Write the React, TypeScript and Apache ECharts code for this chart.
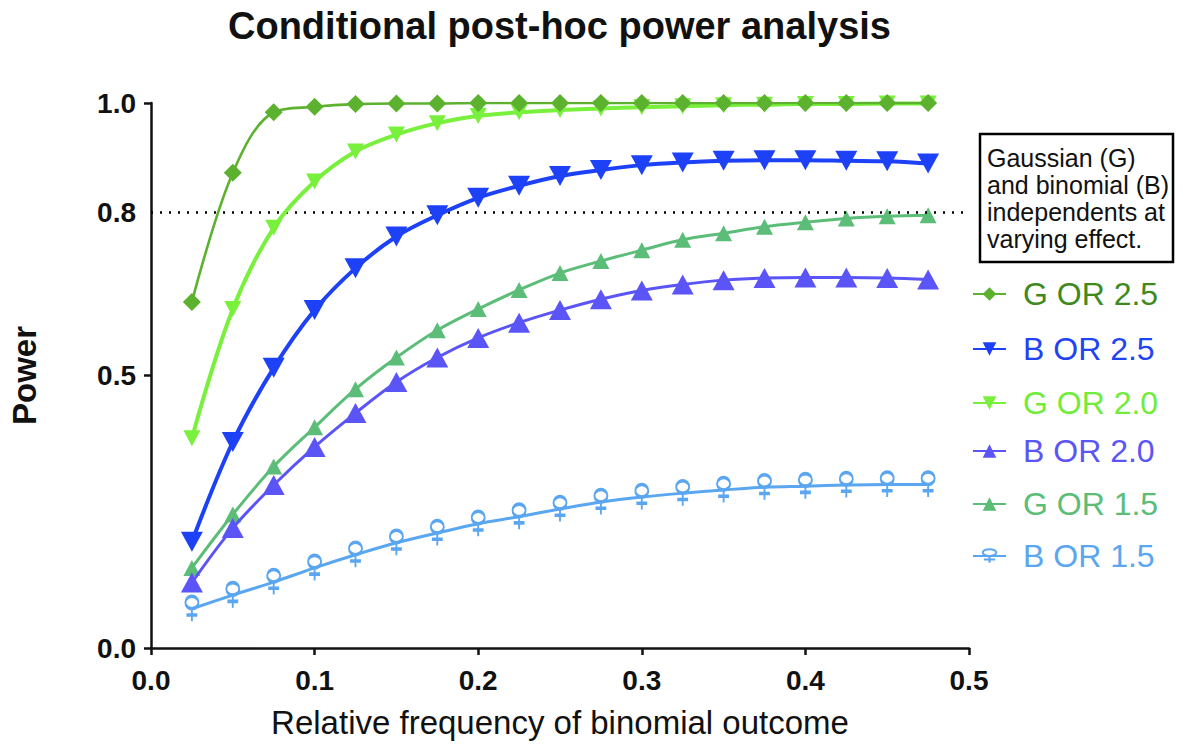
import React, { useEffect, useRef } from 'react';
import * as echarts from 'echarts';

// ---------- data ----------
const xValues = [0.025, 0.05, 0.075, 0.1, 0.125, 0.15, 0.175, 0.2, 0.225, 0.25, 0.275, 0.3, 0.325, 0.35, 0.375, 0.4, 0.425, 0.45, 0.475];

const gOR25 = [0.635, 0.872, 0.983, 0.993, 0.998, 0.999, 0.999, 1.0, 1.0, 1.0, 1.0, 1.0, 1.0, 1.0, 1.0, 1.0, 1.0, 1.0, 1.0];
const bOR25 = [0.195, 0.378, 0.514, 0.62, 0.697, 0.755, 0.794, 0.826, 0.848, 0.866, 0.877, 0.886, 0.891, 0.894, 0.895, 0.895, 0.894, 0.893, 0.889];
const gOR20 = [0.385, 0.622, 0.771, 0.856, 0.911, 0.942, 0.963, 0.976, 0.983, 0.987, 0.99, 0.992, 0.994, 0.996, 0.997, 0.998, 0.998, 0.999, 0.999];
const bOR20 = [0.12, 0.22, 0.299, 0.369, 0.431, 0.488, 0.533, 0.569, 0.597, 0.62, 0.64, 0.656, 0.667, 0.675, 0.679, 0.68, 0.68, 0.679, 0.676];
const gOR15 = [0.147, 0.245, 0.333, 0.405, 0.475, 0.533, 0.583, 0.622, 0.657, 0.688, 0.71, 0.73, 0.749, 0.761, 0.773, 0.781, 0.788, 0.792, 0.794];
const bOR15 = [0.072, 0.097, 0.121, 0.147, 0.171, 0.193, 0.211, 0.228, 0.241, 0.255, 0.268, 0.277, 0.284, 0.29, 0.295, 0.297, 0.299, 0.3, 0.3];

const seriesNames = ['G OR 2.5', 'B OR 2.5', 'G OR 2.0', 'B OR 2.0', 'G OR 1.5', 'B OR 1.5'];
const yLabelValues = [0, 0.5, 0.8, 1.0];
const yTickValues = [0, 0.5, 1.0];
const thresholdValue = 0.8;

const titleText = 'Conditional post-hoc power analysis';
const xAxisName = 'Relative frequency of binomial outcome';
const yAxisName = 'Power';
const noteLines = ['Gaussian (G)', 'and binomial (B)', 'independents at', 'varying effect.'];

// ---------- styling ----------
const FONT = '"Liberation Sans", Arial, Helvetica, sans-serif';
const FEMALE = 'path://M1,6A6,6,0,1,1,13,6A6,6,0,1,1,1,6Z M7,12L7,24 M2,18L12,18';

type Spec = {
  name: string;
  data: number[];
  color: string;
  textColor: string;
  symbol: string;
  symbolSize: number | number[];
  rotate: number;
  lineWidth: number;
  hollow?: boolean;
};

const specs: Spec[] = [
  { name: seriesNames[0], data: gOR25, color: '#5cb22e', textColor: '#3f8a1f', symbol: 'diamond', symbolSize: 18, rotate: 0, lineWidth: 2.6 },
  { name: seriesNames[1], data: bOR25, color: '#1c41f6', textColor: '#1f44f5', symbol: 'triangle', symbolSize: [22, 20], rotate: 180, lineWidth: 4 },
  { name: seriesNames[2], data: gOR20, color: '#78f03c', textColor: '#70ec3a', symbol: 'triangle', symbolSize: [17, 16], rotate: 180, lineWidth: 4 },
  { name: seriesNames[3], data: bOR20, color: '#5b55f8', textColor: '#5b55f8', symbol: 'triangle', symbolSize: [22, 20], rotate: 0, lineWidth: 3 },
  { name: seriesNames[4], data: gOR15, color: '#5bbd78', textColor: '#5bbd78', symbol: 'triangle', symbolSize: [17, 16], rotate: 0, lineWidth: 3 },
  { name: seriesNames[5], data: bOR15, color: '#5aa6f0', textColor: '#5aa6f0', symbol: FEMALE, symbolSize: [13, 25], rotate: 0, lineWidth: 3, hollow: true },
];

const legendCenters = [293, 348, 402, 450, 503, 555];

export default function App() {
  const ref = useRef<HTMLDivElement>(null);

  useEffect(() => {
    if (!ref.current) return;
    const chart = echarts.init(ref.current, null, { renderer: 'svg' });

    // draw order: bottom first, G OR 2.5 on top
    const drawOrder = [...specs].reverse();

    const series: any[] = drawOrder.map((s, idx) => ({
      name: s.name,
      type: 'line',
      data: xValues.map((x, i) => [x, s.data[i]]),
      smooth: 0.35,
      symbol: s.symbol,
      symbolSize: s.symbolSize,
      symbolRotate: s.rotate,
      showAllSymbol: true,
      lineStyle: { color: s.color, width: s.lineWidth },
      itemStyle: s.hollow
        ? { color: 'rgba(255,255,255,0)', borderColor: s.color, borderWidth: 2.6 }
        : { color: s.color, borderWidth: 0 },
      emphasis: { disabled: true },
      z: 2 + idx,
      ...(idx === 0
        ? {
            markLine: {
              silent: true,
              symbol: ['none', 'none'],
              label: { show: false },
              lineStyle: { color: '#000', width: 2.5, type: [2, 7] },
              data: [{ yAxis: thresholdValue }],
            },
          }
        : {}),
    }));

    const legends = specs.map((s, i) => ({
      show: true,
      left: 972,
      top: legendCenters[i] - 15,
      padding: 0,
      itemWidth: 33,
      itemHeight: 17,
      itemGap: 0,
      selectedMode: false,
      data: [{ name: s.name, textStyle: { color: s.textColor } }],
      textStyle: { fontSize: 32, fontFamily: FONT, lineHeight: 30, padding: [0, 0, 0, 12] },
    }));

    chart.setOption({
      animation: false,
      backgroundColor: '#fff',
      title: {
        text: titleText,
        left: 228,
        top: 7,
        padding: 0,
        textStyle: { fontSize: 38, fontWeight: 'bold', fontFamily: FONT, color: '#111' },
      },
      legend: legends,
      grid: { left: 150, right: 213, top: 103, bottom: 96, containLabel: false },
      xAxis: {
        type: 'value',
        min: 0,
        max: 0.5,
        interval: 0.1,
        name: xAxisName,
        nameLocation: 'middle',
        nameGap: 58,
        nameTextStyle: { fontSize: 33, fontFamily: FONT, color: '#111' },
        axisLine: { show: true, lineStyle: { color: '#111', width: 2.5 } },
        axisTick: { show: true, length: 7, lineStyle: { color: '#111', width: 2.5 } },
        axisLabel: {
          margin: 18,
          fontSize: 28,
          fontWeight: 'bold',
          fontFamily: FONT,
          color: '#111',
          formatter: (v: number) => v.toFixed(1),
        },
        splitLine: { show: false },
      },
      yAxis: {
        type: 'value',
        min: 0,
        max: 1,
        name: yAxisName,
        nameLocation: 'middle',
        nameGap: 110,
        nameRotate: 90,
        nameTextStyle: { fontSize: 33, fontWeight: 'bold', fontFamily: FONT, color: '#111' },
        axisLine: { show: true, lineStyle: { color: '#111', width: 2.5 } },
        axisTick: { show: true, length: 7, customValues: yTickValues, lineStyle: { color: '#111', width: 2.5 } },
        axisLabel: {
          margin: 15,
          fontSize: 28,
          fontWeight: 'bold',
          fontFamily: FONT,
          color: '#111',
          customValues: yLabelValues,
          formatter: (v: number) => v.toFixed(1),
        },
        splitLine: { show: false },
      },
      graphic: [
        {
          type: 'rect',
          x: 980,
          y: 134,
          shape: { width: 193, height: 128 },
          style: { fill: '#fff', stroke: '#000', lineWidth: 2.5 },
          z: 10,
        },
        {
          type: 'text',
          x: 987,
          y: 144,
          style: {
            text: noteLines.join('\n'),
            font: `25px ${FONT}`,
            lineHeight: 27,
            fill: '#111',
            verticalAlign: 'top',
          },
          z: 11,
        },
      ],
      series,
    });

    return () => chart.dispose();
  }, []);

  return (
    <div
      ref={ref}
      style={{ position: 'fixed', left: 0, top: 0, width: 1182, height: 744, background: '#fff' }}
    />
  );
}
